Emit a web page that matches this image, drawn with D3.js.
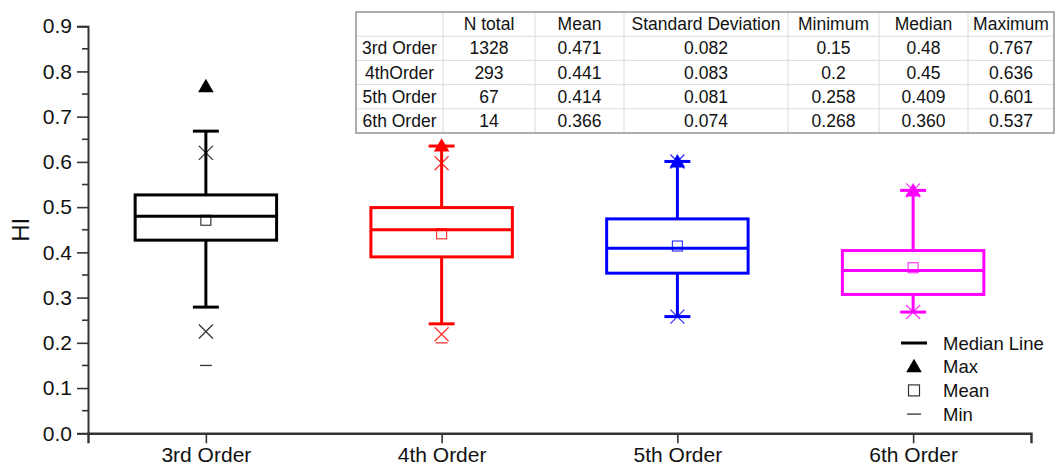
<!DOCTYPE html>
<html>
<head>
<meta charset="utf-8">
<script src="https://cdn.jsdelivr.net/npm/d3@7"></script>
<style>
  html, body { margin: 0; padding: 0; background: #fff; }
  svg { display: block; font-family: "Liberation Sans", Arial, sans-serif; }
</style>
</head>
<body>
<svg id="chart" width="1057" height="469"></svg>
<script>
// Stream orders and their summary statistics of the hypsometric integral (HI)
const categories = ["3rd Order", "4th Order", "5th Order", "6th Order"];
const tableRowNames = ["3rd Order", "4thOrder", "5th Order", "6th Order"];
const colors = ["#000000", "#ff0000", "#0000ff", "#ff00ff"];

const nTotal  = [1328, 293, 67, 14];
const means   = [0.471, 0.441, 0.414, 0.366];
const stdDevs = [0.082, 0.083, 0.081, 0.074];
const minimums = [0.15, 0.2, 0.258, 0.268];
const medians = [0.48, 0.45, 0.409, 0.360];
const maximums = [0.767, 0.636, 0.601, 0.537];

// Box (25th-75th percentile) and whisker extents
const q1 = [0.427, 0.390, 0.354, 0.307];
const q3 = [0.527, 0.499, 0.474, 0.404];
const whiskerLow  = [0.279, 0.242, 0.258, 0.268];
const whiskerHigh = [0.668, 0.635, 0.601, 0.537];
// 1st and 99th percentiles (cross markers)
const p1  = [0.225, 0.219, 0.258, 0.268];
const p99 = [0.620, 0.597, 0.601, 0.537];

const tableHeaders = ["", "N total", "Mean", "Standard Deviation", "Minimum", "Median", "Maximum"];
const tableDecimals = [null, 3, 3, null, null, 3]; // formatting of each numeric column
const yTicks = [0, 0.1, 0.2, 0.3, 0.4, 0.5, 0.6, 0.7, 0.8, 0.9];
const yLabel = "HI";
const legendItems = ["Median Line", "Max", "Mean", "Min"];

const svg = d3.select("#chart");
const FONT = "'Liberation Sans', Arial, sans-serif";

const x = d3.scaleLinear().domain([0.5, 4.5]).range([88, 1031]);
const y = d3.scaleLinear().domain([0, 0.9]).range([433.3, 26.2]);
const step = x(2) - x(1);
const boxW = step * 0.6;
const capW = step * 0.11;

// ---- axes ----
const axisColor = "#333";
const yAxis = svg.append("g").attr("transform", `translate(${x(0.5)},0)`)
  .call(d3.axisLeft(y).tickValues(yTicks).tickFormat(d3.format(".1f")).tickSize(11).tickPadding(5));
yAxis.select(".domain").attr("stroke", axisColor).attr("stroke-width", 2);
yAxis.selectAll(".tick line").attr("stroke", axisColor).attr("stroke-width", 1.6);
yAxis.selectAll(".tick text").attr("font-size", 21).attr("font-family", FONT).attr("fill", "#111");

// minor ticks
const minor = d3.range(0.05, 0.9, 0.1);
svg.append("g").selectAll("line").data(minor).join("line")
  .attr("x1", x(0.5) - 6).attr("x2", x(0.5))
  .attr("y1", d => y(d)).attr("y2", d => y(d))
  .attr("stroke", axisColor).attr("stroke-width", 1.6);

const xAxis = svg.append("g").attr("transform", `translate(0,${y(0)})`)
  .call(d3.axisBottom(x).tickValues([1, 2, 3, 4]).tickFormat((d) => categories[d - 1]).tickSize(10).tickPadding(4));
xAxis.select(".domain").attr("stroke", axisColor).attr("stroke-width", 2.4);
xAxis.selectAll(".tick line").attr("stroke", axisColor).attr("stroke-width", 1.6);
xAxis.selectAll(".tick text").attr("font-size", 21).attr("font-family", FONT).attr("fill", "#111");

svg.append("text")
  .attr("transform", `translate(29,${y(0.45)}) rotate(-90)`)
  .attr("text-anchor", "middle")
  .attr("font-size", 24).attr("font-family", FONT).attr("fill", "#111")
  .text(yLabel);

// ---- boxes ----
const tri = d3.symbol().type(d3.symbolTriangle).size(105);
categories.forEach((c, i) => {
  const cx = x(i + 1);
  const col = colors[i];
  const g = svg.append("g");
  // whiskers
  g.append("line").attr("x1", cx).attr("x2", cx).attr("y1", y(q3[i])).attr("y2", y(whiskerHigh[i]))
    .attr("stroke", col).attr("stroke-width", 3);
  g.append("line").attr("x1", cx).attr("x2", cx).attr("y1", y(q1[i])).attr("y2", y(whiskerLow[i]))
    .attr("stroke", col).attr("stroke-width", 3);
  [whiskerHigh[i], whiskerLow[i]].forEach(v => {
    g.append("line").attr("x1", cx - capW / 2).attr("x2", cx + capW / 2).attr("y1", y(v)).attr("y2", y(v))
      .attr("stroke", col).attr("stroke-width", 3);
  });
  // box
  g.append("rect").attr("x", cx - boxW / 2).attr("width", boxW)
    .attr("y", y(q3[i])).attr("height", y(q1[i]) - y(q3[i]))
    .attr("fill", "none").attr("stroke", col).attr("stroke-width", 3);
  // median
  g.append("line").attr("x1", cx - boxW / 2).attr("x2", cx + boxW / 2)
    .attr("y1", y(medians[i])).attr("y2", y(medians[i]))
    .attr("stroke", col).attr("stroke-width", 3);
  // mean
  g.append("rect").attr("x", cx - 5).attr("y", y(means[i]) - 5).attr("width", 10).attr("height", 10)
    .attr("fill", "none").attr("stroke", col).attr("stroke-width", 1.1).attr("opacity", 0.85);
  // 1st / 99th percentile crosses
  [p1[i], p99[i]].forEach(v => {
    const yy = y(v);
    g.append("path").attr("d", `M${cx - 7},${yy - 7}L${cx + 7},${yy + 7}M${cx - 7},${yy + 7}L${cx + 7},${yy - 7}`)
      .attr("stroke", col).attr("stroke-width", 1.3).attr("fill", "none").attr("opacity", 0.8);
  });
  // min dash
  g.append("line").attr("x1", cx - 6).attr("x2", cx + 6).attr("y1", y(minimums[i])).attr("y2", y(minimums[i]))
    .attr("stroke", col).attr("stroke-width", 1.3).attr("opacity", 0.8);
  // max triangle
  g.append("path").attr("d", tri).attr("transform", `translate(${cx},${y(maximums[i]) + 1.5})`)
    .attr("fill", col);
});

// ---- statistics table ----
const colEdges = [356, 443, 535, 624, 788, 879, 968, 1054];
const rowTop = 12, rowH = 24.2;
const nRows = tableRowNames.length + 1;
const tg = svg.append("g");
tg.append("rect").attr("x", colEdges[0]).attr("y", rowTop)
  .attr("width", colEdges[colEdges.length - 1] - colEdges[0]).attr("height", rowH * nRows)
  .attr("fill", "#fff");
// inner grid
for (let r = 1; r < nRows; r++) {
  tg.append("line").attr("x1", colEdges[0]).attr("x2", colEdges[colEdges.length - 1])
    .attr("y1", rowTop + r * rowH).attr("y2", rowTop + r * rowH)
    .attr("stroke", "#dcdcdc").attr("stroke-width", 1);
}
for (let k = 1; k < colEdges.length - 1; k++) {
  tg.append("line").attr("x1", colEdges[k]).attr("x2", colEdges[k])
    .attr("y1", rowTop).attr("y2", rowTop + rowH * nRows)
    .attr("stroke", "#dcdcdc").attr("stroke-width", 1);
}
tg.append("rect").attr("x", colEdges[0]).attr("y", rowTop)
  .attr("width", colEdges[colEdges.length - 1] - colEdges[0]).attr("height", rowH * nRows)
  .attr("fill", "none").attr("stroke", "#9a9a9a").attr("stroke-width", 1.6);

const fmt3 = d3.format(".3f");
const rows = [tableHeaders].concat(tableRowNames.map((n, i) => [
  n,
  String(nTotal[i]),
  fmt3(means[i]),
  fmt3(stdDevs[i]),
  String(minimums[i]),
  i === 3 ? fmt3(medians[i]) : String(medians[i]),
  fmt3(maximums[i])
]));
rows.forEach((row, r) => {
  row.forEach((txt, k) => {
    tg.append("text")
      .attr("x", (colEdges[k] + colEdges[k + 1]) / 2)
      .attr("y", rowTop + r * rowH + rowH / 2 + 6)
      .attr("text-anchor", "middle")
      .attr("font-size", 17.5).attr("font-family", FONT).attr("fill", "#111")
      .text(txt);
  });
});

// ---- legend ----
const lg = svg.append("g");
const lgX = 914, lgTextX = 943, lgY0 = 343, lgDy = 23.7;
legendItems.forEach((label, k) => {
  const yy = lgY0 + k * lgDy;
  if (k === 0) {
    lg.append("line").attr("x1", lgX - 13).attr("x2", lgX + 13).attr("y1", yy).attr("y2", yy)
      .attr("stroke", "#000").attr("stroke-width", 3);
  } else if (k === 1) {
    lg.append("path").attr("d", tri).attr("transform", `translate(${lgX},${yy + 1})`).attr("fill", "#000");
  } else if (k === 2) {
    lg.append("rect").attr("x", lgX - 5.5).attr("y", yy - 5.5).attr("width", 11).attr("height", 11)
      .attr("fill", "none").attr("stroke", "#333").attr("stroke-width", 1.2);
  } else {
    lg.append("line").attr("x1", lgX - 7).attr("x2", lgX + 7).attr("y1", yy).attr("y2", yy)
      .attr("stroke", "#333").attr("stroke-width", 1.3);
  }
  lg.append("text").attr("x", lgTextX).attr("y", yy + 6.5)
    .attr("font-size", 18.5).attr("font-family", FONT).attr("fill", "#111")
    .text(label);
});
</script>
</body>
</html>
